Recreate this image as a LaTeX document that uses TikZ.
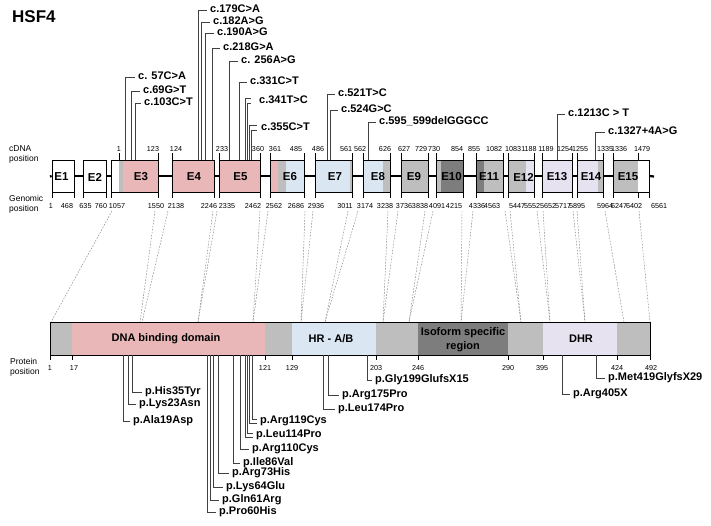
\documentclass[tikz,border=0pt]{standalone}
\usepackage{fontspec}
\setmainfont{Liberation Sans}
\definecolor{cpink}{RGB}{233,183,184}
\definecolor{cblue}{RGB}{218,230,242}
\definecolor{cgray}{RGB}{190,190,190}
\definecolor{cdark}{RGB}{125,125,125}
\definecolor{clav}{RGB}{231,226,240}
\begin{document}
\begin{tikzpicture}[x=1pt,y=-1pt,
  lab/.style={font=\fontsize{11}{13}\selectfont\bfseries, anchor=mid west, inner sep=0pt},
  num/.style={font=\fontsize{7.2}{9}\selectfont, inner sep=0pt, anchor=mid},
  side/.style={font=\fontsize{8.5}{10}\selectfont, inner sep=0pt, anchor=west, align=left},
  exon/.style={draw, line width=0.8pt, minimum height=32pt, inner sep=0pt},
  exlab/.style={font=\fontsize{11.5}{13}\selectfont\bfseries, inner sep=0pt},
  dom/.style={font=\fontsize{11}{14}\selectfont\bfseries, inner sep=0pt, align=center},
  lead/.style={draw=black!75, line width=0.9pt},
  bb/.style={line width=2.2pt},
  dotl/.style={draw=black!50, line width=0.45pt, dash pattern=on 1.6pt off 1.4pt},
  tk/.style={line width=0.6pt}]
\useasboundingbox (0,0) rectangle (711,525);

% title and side labels
\node[font=\fontsize{17}{20}\selectfont\bfseries, anchor=mid west, inner sep=0pt] (title) at (12,20) {HSF4};
\node[side] (cdnal) at (9,154) {cDNA\\position};
\node[side] (genl) at (9,204) {Genomic\\position};
\node[side] (protl) at (10,367) {Protein\\position};

% backbone
\coordinate (bbs) at (50,176.5);
\coordinate (bbe) at (654,176.5);

% exon fills
\fill[white] (52,160) rectangle (74,192);
\fill[white] (83,160) rectangle (106,192);
\fill[white] (111,160) rectangle (119,192);
\fill[cgray] (119,160) rectangle (123,192);
\fill[cpink] (123,160) rectangle (158,192);
\fill[cpink] (172,160) rectangle (214,192);
\fill[cpink] (219,160) rectangle (260,192);
\fill[cpink] (270,160) rectangle (278,192);
\fill[cgray] (278,160) rectangle (286,192);
\fill[cblue] (286,160) rectangle (304,192);
\fill[cblue] (315,160) rectangle (350,192);
\fill[cgray] (350,160) rectangle (352,192);
\fill[cblue] (363,160) rectangle (383,192);
\fill[cgray] (383,160) rectangle (390,192);
\fill[cgray] (401,160) rectangle (428,192);
\fill[cgray] (436,160) rectangle (441,192);
\fill[cdark] (441,160) rectangle (463,192);
\fill[cdark] (476,160) rectangle (484,192);
\fill[cgray] (484,160) rectangle (503,192);
\fill[cgray] (508,160) rectangle (526,192);
\fill[clav] (526,160) rectangle (534,192);
\fill[clav] (542,160) rectangle (572,192);
\fill[clav] (577,160) rectangle (598,192);
\fill[cgray] (598,160) rectangle (603,192);
\fill[cgray] (613,160) rectangle (638,192);
\fill[white] (638,160) rectangle (649,192);

% exon boxes
\node[exon, minimum width=22pt] (e1) at (63,176) {};
\node[exon, minimum width=23pt] (e2) at (94.5,176) {};
\node[exon, minimum width=47pt] (e3) at (134.5,176) {};
\node[exon, minimum width=42pt] (e4) at (193,176) {};
\node[exon, minimum width=41pt] (e5) at (239.5,176) {};
\node[exon, minimum width=34pt] (e6) at (287,176) {};
\node[exon, minimum width=37pt] (e7) at (333.5,176) {};
\node[exon, minimum width=27pt] (e8) at (376.5,176) {};
\node[exon, minimum width=27pt] (e9) at (414.5,176) {};
\node[exon, minimum width=27pt] (e10) at (449.5,176) {};
\node[exon, minimum width=27pt] (e11) at (489.5,176) {};
\node[exon, minimum width=26pt] (e12) at (521,176) {};
\node[exon, minimum width=30pt] (e13) at (557,176) {};
\node[exon, minimum width=26pt] (e14) at (590,176) {};
\node[exon, minimum width=36pt] (e15) at (631,176) {};

\draw[bb] (bbs) -- (e1.west);
\foreach \a/\b in {e1/e2,e2/e3,e3/e4,e4/e5,e5/e6,e6/e7,e7/e8,e8/e9,e9/e10,e10/e11,e11/e12,e12/e13,e13/e14,e14/e15}
  \draw[bb] (\a.east) -- (\b.west);
\draw[bb] (e15.east) -- (bbe);

% exon labels
\foreach \x/\t [count=\i] in {61.5/E1,95/E2,141/E3,194/E4,240.5/E5,290/E6,335/E7,378/E8,414/E9,451.5/E10,489/E11,523.5/E12,557/E13,591/E14,628/E15}
  \node[exlab] (el\i) at (\x,177) {\t};

% cDNA ticks and numbers
\foreach \x in {119,158,172,219,260,270,304,315,352,363,390,401,428,436,463,476,503,508,534,542,572,577,603,613,638}
  \draw[tk] (\x,153) -- (\x,160);
\foreach \x/\t [count=\i] in {119/1,153/123,176/124,222/233,258/360,275/361,296/485,318/486,346/561,360/562,385/626,404/627,421/729,434/730,457/854,474/855,494/1082,513/1083,529/1188,546/1189,565/1254,580/1255,605/1335,619/1336,642/1479}
  \node[num] (cn\i) at (\x,148.5) {\t};

% genomic ticks and numbers
\foreach \x in {52,74,83,106,111,158,172,214,219,260,270,304,315,352,363,390,401,428,436,463,476,503,508,534,542,572,577,603,613,638,649}
  \draw[tk] (\x,192) -- (\x,198);
\foreach \x/\t [count=\i] in {51/1,67/468,85.5/635,101/760,117/1057,156/1550,176/2138,209/2246,227/2335,253/2462,274/2562,296/2686,316/2936,345/3011,365/3174,385/3238,404/3736,420/3838,437/4091,454/4215,477/4336,492/4563,517/5447,532/5552,548/5652,563/5717,577/5895,605/5964,619/6247,634/6402,659/6561}
  \node[num] (gn\i) at (\x,206) {\t};

% dashed mapping lines
\foreach \a/\b in {112/51,155/140,168/142,213/198,217/198,260/253,268/253,305/301,313/301,348/325,358/325,388/383,398/383,425/409,433/409,462/461,473/461,505/521,510/521,537/550,543/550,573/585,577/585,605/624,639/650}
  \draw[dotl] (\a,211) -- (\b,322);

% protein bar
\fill[cgray] (50,322) rectangle (72,355);
\fill[cpink] (72,322) rectangle (265,355);
\fill[cgray] (265,322) rectangle (292,355);
\fill[cblue] (292,322) rectangle (376,355);
\fill[cgray] (376,322) rectangle (418,355);
\fill[cdark] (418,322) rectangle (508,355);
\fill[cgray] (508,322) rectangle (543,355);
\fill[clav] (543,322) rectangle (617,355);
\fill[cgray] (617,322) rectangle (650,355);
\node[draw, line width=0.8pt, minimum width=600pt, minimum height=33pt, inner sep=0pt] (bar) at (350,338.5) {};

\node[dom] (dbd) at (166,339) {DNA binding domain};
\node[dom] (hr) at (331,339) {HR - A/B};
\node[dom] (iso) at (463,339.5) {Isoform specific\\region};
\node[dom] (dhr) at (581,339) {DHR};

\foreach \x in {50,72,265,292,376,418,508,543,617,650}
  \draw[tk] (\x,355) -- (\x,360);
\foreach \x/\t [count=\i] in {50/1,74/17,265/121,292/129,376/203,418/246,508/290,542/395,617/424,651/492}
  \node[num] (pn\i) at (\x,368) {\t};

% top mutation labels
\node[lab] (m1) at (138,77) {c. 57C>A};
\node[lab] (m2) at (143,91) {c.69G>T};
\node[lab] (m3) at (144,103) {c.103C>T};
\node[lab] (m4) at (210,10) {c.179C>A};
\node[lab] (m5) at (213,22) {c.182A>G};
\node[lab] (m6) at (217,33) {c.190A>G};
\node[lab] (m7) at (223,48) {c.218G>A};
\node[lab] (m8) at (241,61) {c. 256A>G};
\node[lab] (m9) at (250,82) {c.331C>T};
\node[lab] (m10) at (259,101) {c.341T>C};
\node[lab] (m11) at (261,128) {c.355C>T};
\node[lab] (m12) at (338,94) {c.521T>C};
\node[lab] (m13) at (341,110) {c.524G>C};
\node[lab] (m14) at (379,122) {c.595\_599delGGGCC};
\node[lab] (m15) at (568,114) {c.1213C > T};
\node[lab] (m16) at (608,132) {c.1327+4A>G};

\draw[lead] (125,160) |- ([xshift=-3pt]m1.mid west);
\draw[lead] (131,160) |- ([xshift=-3pt]m2.mid west);
\draw[lead] (135,160) |- ([xshift=-3pt]m3.mid west);
\draw[lead] (198,160) |- ([xshift=-3pt]m4.mid west);
\draw[lead] (201,160) |- ([xshift=-3pt]m5.mid west);
\draw[lead] (205,160) |- ([xshift=-3pt]m6.mid west);
\draw[lead] (212,160) |- ([xshift=-3pt]m7.mid west);
\draw[lead] (229,160) |- ([xshift=-3pt]m8.mid west);
\draw[lead] (239,160) |- ([xshift=-3pt]m9.mid west);
\draw[lead] (245,160) |- ([xshift=-8pt,yshift=2.5pt]m10.mid west);
\draw[lead] (247.5,160) |- ([xshift=-8pt,yshift=-2.5pt]m10.mid west);
\draw[lead] (249,160) |- ([xshift=-4pt,yshift=2.5pt]m11.mid west);
\draw[lead] (251.5,160) |- ([xshift=-4pt,yshift=-2.5pt]m11.mid west);
\draw[lead] (327,160) |- ([xshift=-3pt]m12.mid west);
\draw[lead] (330,160) |- ([xshift=-3pt]m13.mid west);
\draw[lead] (368,160) |- ([xshift=-3pt]m14.mid west);
\draw[lead] (557,160) |- ([xshift=-3pt]m15.mid west);
\draw[lead] (595,160) |- ([xshift=-3pt]m16.mid west);

% bottom mutation labels
\node[lab] (p1) at (133,421) {p.Ala19Asp};
\node[lab] (p2) at (139,404) {p.Lys23Asn};
\node[lab] (p3) at (145,392) {p.His35Tyr};
\node[lab] (p4) at (219,512) {p.Pro60His};
\node[lab] (p5) at (222,500) {p.Gln61Arg};
\node[lab] (p6) at (226,487) {p.Lys64Glu};
\node[lab] (p7) at (232,473) {p.Arg73His};
\node[lab] (p8) at (243,463) {p.Ile86Val};
\node[lab] (p9) at (252,449) {p.Arg110Cys};
\node[lab] (p10) at (256,435) {p.Leu114Pro};
\node[lab] (p11) at (260,421) {p.Arg119Cys};
\node[lab] (p12) at (338,409) {p.Leu174Pro};
\node[lab] (p13) at (342,395) {p.Arg175Pro};
\node[lab] (p14) at (375,380) {p.Gly199GlufsX15};
\node[lab] (p15) at (573,394) {p.Arg405X};
\node[lab] (p16) at (608,378) {p.Met419GlyfsX29};

\draw[lead] (123,355) |- ([xshift=-3pt]p1.mid west);
\draw[lead] (128,355) |- ([xshift=-3pt]p2.mid west);
\draw[lead] (132,355) |- ([xshift=-3pt]p3.mid west);
\draw[lead] (207,355) |- ([xshift=-3pt]p4.mid west);
\draw[lead] (210,355) |- ([xshift=-3pt]p5.mid west);
\draw[lead] (213,355) |- ([xshift=-3pt]p6.mid west);
\draw[lead] (218,355) |- ([xshift=-3pt]p7.mid west);
\draw[lead] (233,355) |- ([xshift=-3pt]p8.mid west);
\draw[lead] (240,355) |- ([xshift=-3pt]p9.mid west);
\draw[lead] (245,355) |- ([xshift=-3pt,yshift=-2pt]p10.mid west);
\draw[lead] (247.5,355) |- ([xshift=-3pt,yshift=2pt]p10.mid west);
\draw[lead] (249.5,355) |- ([xshift=-3pt,yshift=-2pt]p11.mid west);
\draw[lead] (252,355) |- ([xshift=-3pt,yshift=2pt]p11.mid west);
\draw[lead] (323,355) |- ([xshift=-3pt]p12.mid west);
\draw[lead] (328,355) |- ([xshift=-3pt]p13.mid west);
\draw[lead] (367,355) |- ([xshift=-3pt]p14.mid west);
\draw[lead] (562,355) |- ([xshift=-3pt]p15.mid west);
\draw[lead] (596,355) |- ([xshift=-3pt]p16.mid west);
\end{tikzpicture}
\end{document}
